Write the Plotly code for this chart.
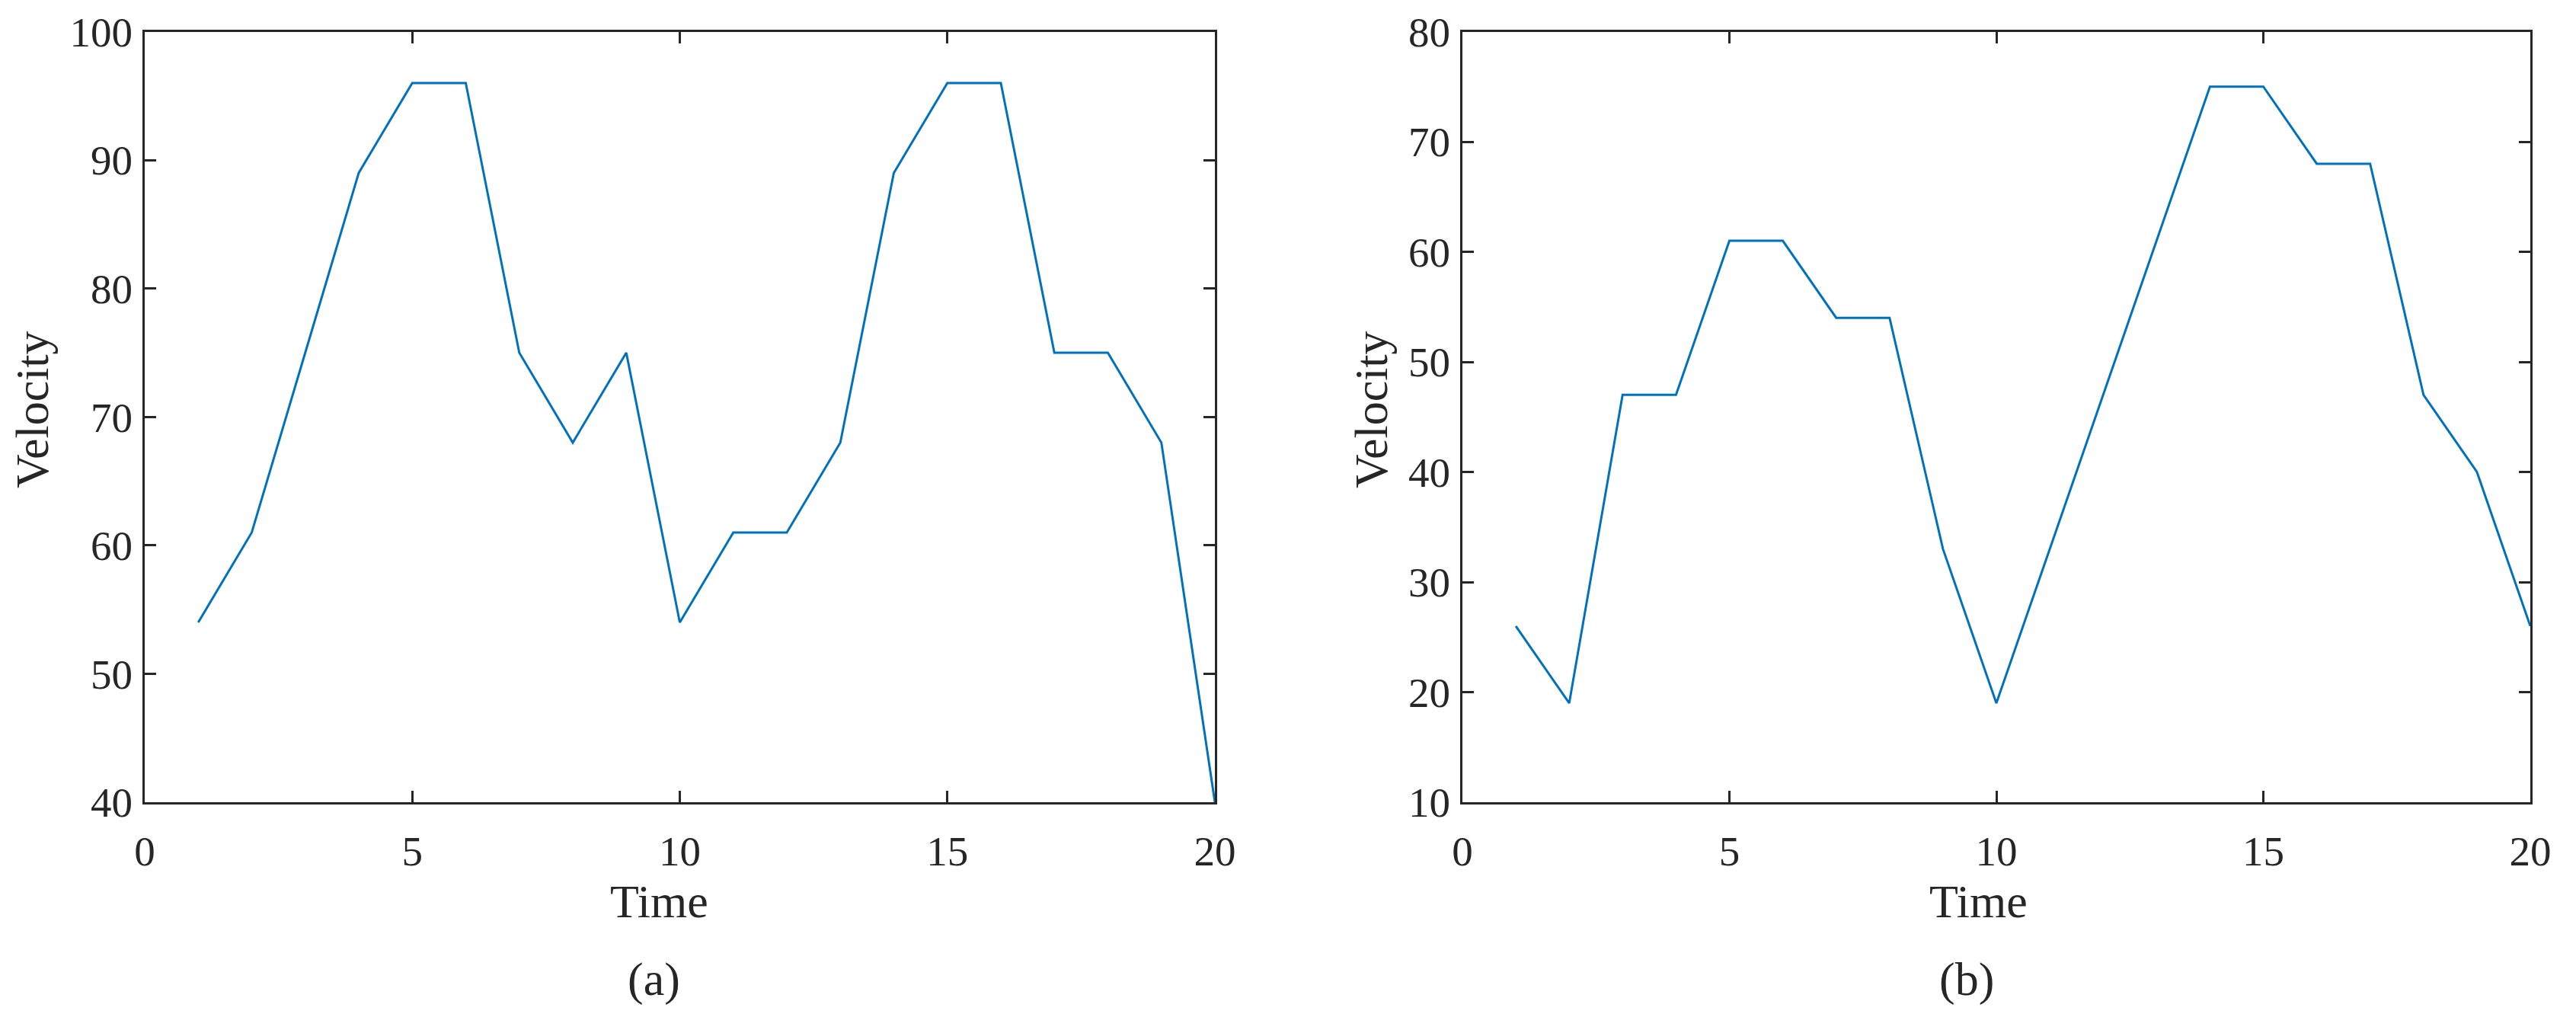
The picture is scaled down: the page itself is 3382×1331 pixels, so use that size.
import plotly.graph_objects as go

time = list(range(1, 21))
velocity_a = [54, 61, 75, 89, 96, 96, 75, 68, 75, 54, 61, 61, 68, 89, 96, 96, 75, 75, 68, 40]
velocity_b = [26, 19, 47, 47, 61, 61, 54, 54, 33, 19, 33, 47, 61, 75, 75, 68, 68, 47, 40, 26]

x_ticks = [0, 5, 10, 15, 20]
y_ticks_a = [40, 50, 60, 70, 80, 90, 100]
y_ticks_b = [10, 20, 30, 40, 50, 60, 70, 80]

W, H = 3382, 1331
FONT = "Liberation Serif, Times New Roman, serif"
AX = "#262626"
LINE = "#0072BD"

def px_x(v):
    return v / W

def px_y(v):
    return (H - v) / H

fig = go.Figure()
fig.add_trace(go.Scatter(x=time, y=velocity_a, mode="lines",
                         line=dict(color=LINE, width=3), xaxis="x", yaxis="y",
                         showlegend=False, cliponaxis=False))
fig.add_trace(go.Scatter(x=time, y=velocity_b, mode="lines",
                         line=dict(color=LINE, width=3), xaxis="x2", yaxis="y2",
                         showlegend=False, cliponaxis=False))

ydom = [px_y(1053), px_y(41.5)]
common_axis = dict(showline=True, linecolor=AX, linewidth=3, mirror="ticks",
                   ticks="inside", ticklen=15, tickwidth=3, tickcolor=AX,
                   showgrid=False, zeroline=False, automargin=False,
                   tickfont=dict(family=FONT, size=55, color=AX))

fig.update_layout(
    template="none",
    width=W, height=H,
    margin=dict(l=0, r=0, t=0, b=0, pad=0, autoexpand=False),
    paper_bgcolor="white", plot_bgcolor="white",
    xaxis=dict(domain=[px_x(190), px_x(1595)], range=[0, 20], tickvals=x_ticks,
               anchor="y", ticklabelstandoff=14, **common_axis),
    yaxis=dict(domain=ydom, range=[40, 100], tickvals=y_ticks_a, anchor="x",
               ticklabelstandoff=2, **common_axis),
    xaxis2=dict(domain=[px_x(1920), px_x(3322)], range=[0, 20], tickvals=x_ticks,
                anchor="y2", ticklabelstandoff=14, **common_axis),
    yaxis2=dict(domain=ydom, range=[10, 80], tickvals=y_ticks_b, anchor="x2",
                ticklabelstandoff=2, **common_axis),
)

label_font = dict(family=FONT, size=62, color=AX)
annos = [
    ("Time", 865, 1183, 0),
    ("(a)", 858, 1285, 0),
    ("Time", 2597, 1183, 0),
    ("(b)", 2582, 1285, 0),
    ("Velocity", 42, 538, -90),
    ("Velocity", 1800, 538, -90),
]
for text, x, y, ang in annos:
    fig.add_annotation(text=text, x=px_x(x), y=px_y(y), xref="paper", yref="paper",
                       xanchor="center", yanchor="middle", showarrow=False,
                       textangle=ang, font=label_font)

fig.write_html("out.html",
               config={"displayModeBar": False},
               post_script="document.body.style.margin='0';document.body.style.overflow='hidden';")
